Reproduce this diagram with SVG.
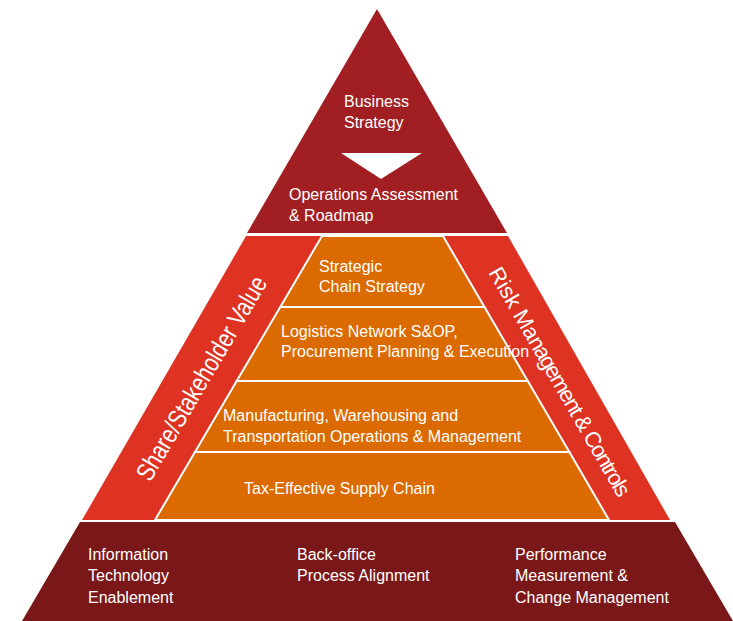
<svg xmlns="http://www.w3.org/2000/svg" width="733" height="621" viewBox="0 0 733 621">
<style>
.t{font-family:"Liberation Sans",Arial,sans-serif;font-size:16px;fill:#ffffff}
.top{fill:#A11F22}
.band{fill:#DE3222}
.layer{fill:#DB6A00;stroke:#ffffff;stroke-width:2;stroke-linejoin:miter}
.base{fill:#7A1819}
.rot{font-family:"Liberation Sans",Arial,sans-serif;fill:#ffffff}
</style>
<rect x="0" y="0" width="733" height="621" fill="#ffffff"/>
<g id="business-strategy">
<polygon class="top" points="377,9 507,233 247,233"/>
<text class="t" x="344" y="107">Business</text>
<text class="t" x="344" y="128">Strategy</text>
<text class="t" x="289" y="200">Operations Assessment</text>
<text class="t" x="289" y="221">&amp; Roadmap</text>
</g>
<g id="connectors">
<polygon points="341,153 422,153 381,179" fill="#ffffff"/>
</g>
<g id="share-stakeholder-value">
<polygon class="band" points="246,236 322,236 155,520 82,520"/>
<text class="rot" font-size="26" x="0" y="0" text-anchor="middle" textLength="232" lengthAdjust="spacingAndGlyphs" transform="translate(209,382.7) rotate(-59.5)">Share/Stakeholder Value</text>
</g>
<g id="risk-management">
<polygon class="band" points="443,236 508,236 670,520 609,520"/>
<text class="rot" font-size="22" x="0" y="0" text-anchor="middle" transform="translate(553,385) rotate(60)"><tspan>Risk Ma</tspan><tspan letter-spacing="-1.4">nagement &amp; Controls</tspan></text>
</g>
<g id="strategic-chain-strategy">
<polygon class="layer" points="322,236 443,236 484.5,307 280.3,307"/>
<text class="t" x="319" y="272">Strategic</text>
<text class="t" x="319" y="292">Chain Strategy</text>
</g>
<g id="logistics-network">
<polygon class="layer" points="280.3,307 484.5,307 527.8,381 236.7,381"/>
<text class="t" x="281" y="337">Logistics Network S&amp;OP,</text>
<text class="t" x="281" y="357">Procurement Planning  &amp; Execution</text>
</g>
<g id="manufacturing">
<polygon class="layer" points="236.7,381 527.8,381 569.4,452 195,452"/>
<text class="t" x="223" y="421">Manufacturing, Warehousing and</text>
<text class="t" x="223" y="442">Transportation Operations &amp; Management</text>
</g>
<g id="tax-effective">
<polygon class="layer" points="195,452 569.4,452 609,520 155,520"/>
<text class="t" x="244" y="494">Tax-Effective Supply Chain</text>
</g>
<g id="enablers">
<polygon class="base" points="80,522 675,522 733,621 22,621"/>
<text class="t" x="88" y="560">Information</text>
<text class="t" x="88" y="581">Technology</text>
<text class="t" x="88" y="603">Enablement</text>
<text class="t" x="297" y="560">Back-office</text>
<text class="t" x="297" y="581">Process Alignment</text>
<text class="t" x="515" y="560">Performance</text>
<text class="t" x="515" y="581">Measurement &amp;</text>
<text class="t" x="515" y="603">Change Management</text>
</g>
</svg>
